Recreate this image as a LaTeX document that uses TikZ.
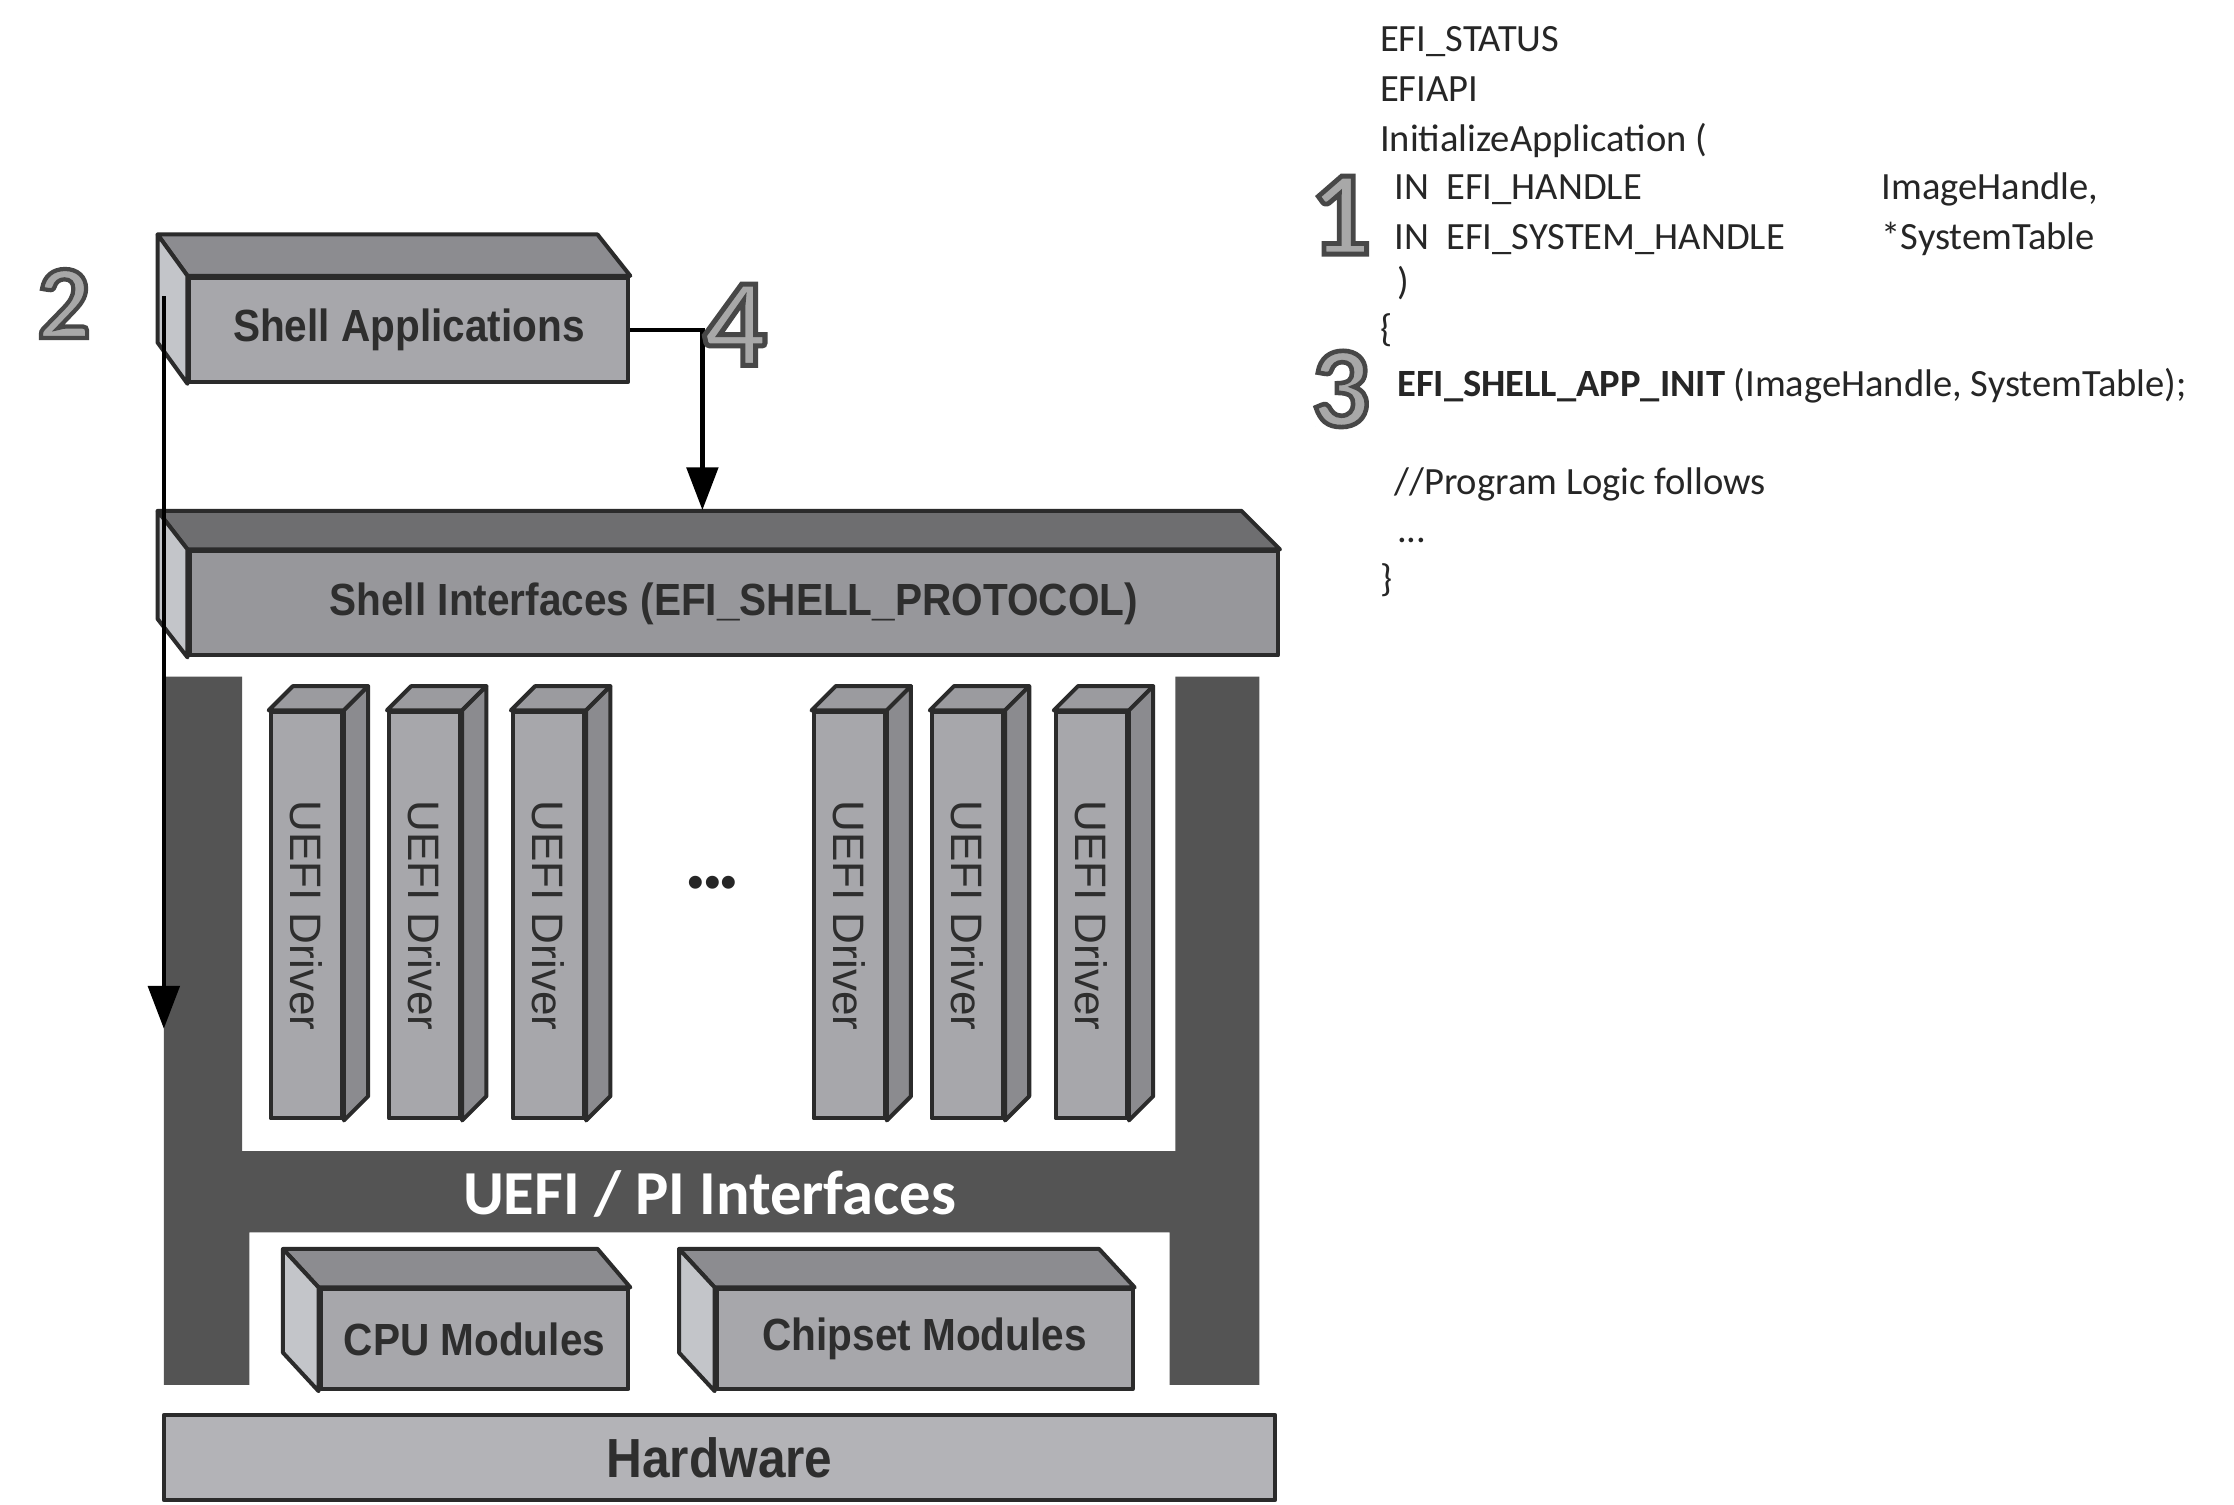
\documentclass[tikz,border=0pt]{standalone}
\usepackage{fontspec}
\usepackage{graphicx}
\setmainfont{Liberation Sans}
\newfontfamily\codefont{Carlito}
% bold digits, stroked as well as filled (outline colour set per node)
\newfontfamily\numfont{Carlito}[UprightFont={* Bold}, FakeBold=4]
\usetikzlibrary{arrows.meta}

\definecolor{edge}{HTML}{2B2B2B}
\definecolor{frontA}{HTML}{A7A7AB}
\definecolor{frontB}{HTML}{97979B}
\definecolor{topA}{HTML}{8C8C90}
\definecolor{topB}{HTML}{6E6E70}
\definecolor{sideL}{HTML}{C3C5C9}
\definecolor{framegray}{HTML}{545454}
\definecolor{labelc}{HTML}{2E2E2E}
\definecolor{codec}{HTML}{262626}
\definecolor{hwfill}{HTML}{B3B3B7}
\definecolor{drvside}{HTML}{8B8B8F}
\definecolor{drvtop}{HTML}{9B9B9F}
\definecolor{numfill}{HTML}{A8A8A8}

% slightly condensed bold label for the 3-D boxes
\newcommand\boxlabel[1]{\scalebox{0.9}[1]{#1}}
% dark stroke colour for the outlined step digits
\newcommand\digitstroke{\special{pdf:literal direct 0.28 G}}

\begin{document}
\begin{tikzpicture}[x=0.1mm, y=-0.1mm,
  face/.style={draw=edge, line width=0.8pt, line join=round},
  front/.style={face, fill=frontA, inner sep=0pt, text=labelc,
    font=\bfseries\fontsize{9pt}{10pt}\selectfont},
  drvlabel/.style={inner sep=0pt, text=labelc, font=\fontsize{8.8pt}{9pt}\selectfont},
  conn/.style={draw=black, line width=0.3mm, -{Triangle[length=3mm, width=2.2mm]}},
  codeline/.style={anchor=base west, inner sep=0pt, text=codec,
    font=\codefont\fontsize{7.7pt}{9pt}\selectfont},
  bignum/.style={inner sep=0pt, text=numfill}
]
\useasboundingbox[fill=white] (0,0) rectangle (1568,1056);

% ---------- UEFI / PI frame ----------
\fill[framegray] (115,475) -- (170,475) -- (170,808) -- (825,808) -- (825,475)
  -- (884,475) -- (884,972) -- (821,972) -- (821,865) -- (175,865) -- (175,972)
  -- (115,972) -- cycle;
\node[inner sep=0pt, text=white, font=\codefont\bfseries\fontsize{12.5pt}{13pt}\selectfont]
  (pi) at (498,838) {UEFI / PI Interfaces};

% ---------- UEFI drivers ----------
\foreach \i/\x in {1/215, 2/298, 3/385, 4/596, 5/679, 6/766} {
  \node[front, minimum width=5.0mm, minimum height=28.5mm] (drv\i) at (\x,642.5) {};
  \filldraw[face, fill=drvtop] (drv\i.north west) -- ++(17,-17)
    -- ([shift={(17,-17)}]drv\i.north east) -- (drv\i.north east) -- cycle;
  \filldraw[face, fill=drvside] (drv\i.north east) -- ++(17,-17)
    -- ([shift={(17,-17)}]drv\i.south east) -- (drv\i.south east) -- cycle;
  \node[drvlabel, rotate=-90] (drvt\i) at (drv\i.center) {UEFI Driver};
}
\node[inner sep=0pt, text=black!85, font=\fontsize{9.5pt}{10pt}\selectfont] (dots) at (500,623) {•••};

% ---------- CPU and chipset modules ----------
\node[front, minimum width=21.6mm, minimum height=7.0mm] (cpu) at (333,940) {\boxlabel{CPU Modules}};
\filldraw[face, fill=topA] (cpu.north west) -- ++(-25,-27)
  -- ([shift={(-23,-27)}]cpu.north east) -- (cpu.north east) -- cycle;
\filldraw[face, fill=sideL] (cpu.north west) -- ++(-25,-27)
  -- ([shift={(-25,-27)}]cpu.south west) -- (cpu.south west) -- cycle;

\node[front, minimum width=29.2mm, minimum height=7.0mm] (chip) at (649,940) {\boxlabel{Chipset Modules}};
\filldraw[face, fill=topA] (chip.north west) -- ++(-25,-27)
  -- ([shift={(-25,-27)}]chip.north east) -- (chip.north east) -- cycle;
\filldraw[face, fill=sideL] (chip.north west) -- ++(-25,-27)
  -- ([shift={(-25,-27)}]chip.south west) -- (chip.south west) -- cycle;

% ---------- hardware ----------
\node[front, fill=hwfill, minimum width=78mm, minimum height=6.0mm,
  font=\bfseries\fontsize{11pt}{12pt}\selectfont] (hw) at (505,1023) {\boxlabel{Hardware}};

% ---------- shell interfaces ----------
\node[front, fill=frontB, minimum width=76.4mm, minimum height=7.3mm] (si) at (515,423.5)
  {\boxlabel{Shell Interfaces (EFI\_SHELL\_PROTOCOL)}};
\filldraw[face, fill=topB] (si.north west) -- ++(-21,-27)
  -- ([shift={(-27,-27)}]si.north east) -- (si.north east) -- cycle;
\filldraw[face, fill=sideL] (si.north west) -- ++(-21,-27)
  -- ([shift={(-21,-27)}]si.south west) -- (si.south west) -- cycle;

% ---------- shell applications ----------
\node[front, minimum width=30.8mm, minimum height=7.3mm] (sa) at (287,231.5)
  {\boxlabel{Shell Applications}};
\filldraw[face, fill=topA] (sa.north west) -- ++(-21,-29)
  -- ([shift={(-23,-29)}]sa.north east) -- (sa.north east) -- cycle;
\filldraw[face, fill=sideL] (sa.north west) -- ++(-21,-29)
  -- ([shift={(-21,-29)}]sa.south west) -- (sa.south west) -- cycle;

% ---------- connectors ----------
\coordinate (lstart) at (115,208);
\coordinate (lend) at (115,722);
\draw[conn] (lstart) -- (lend);
\coordinate (sitop) at (493,358);
\draw[conn] (sa.east) -| (sitop);

% ---------- step numbers ----------
\foreach \nm/\dg/\x/\y/\s in {one/1/941/151/24, two/2/45/213/21, three/3/941/273/23, four/4/516/228/25} {
  \node[bignum, font=\numfont\fontsize{\s pt}{\s pt}\selectfont]
    (\nm) at (\x,\y) {\digitstroke\dg};
}

% ---------- application entry point ----------
\node[codeline] (c1) at (968,36) {EFI\_STATUS};
\node[codeline] (c2) at (968,71) {EFIAPI};
\node[codeline] (c3) at (968,106) {InitializeApplication (};
\node[codeline] (c4) at (978,140) {IN\ \ EFI\_HANDLE};
\node[codeline] (c4b) at (1320,140) {ImageHandle,};
\node[codeline] (c5) at (978,175) {IN\ \ EFI\_SYSTEM\_HANDLE};
\node[codeline] (c5b) at (1320,175) {*SystemTable};
\node[codeline] (c6) at (980,207) {)};
\node[codeline] (c7) at (968,240) {\{};
\node[codeline] (c8) at (980,278) {\textbf{EFI\_SHELL\_APP\_INIT} (ImageHandle, SystemTable);};
\node[codeline] (c9) at (978,347) {//Program Logic follows};
\node[codeline] (c10) at (980,381) {...};
\node[codeline] (c11) at (968,415) {\}};
\end{tikzpicture}
\end{document}
